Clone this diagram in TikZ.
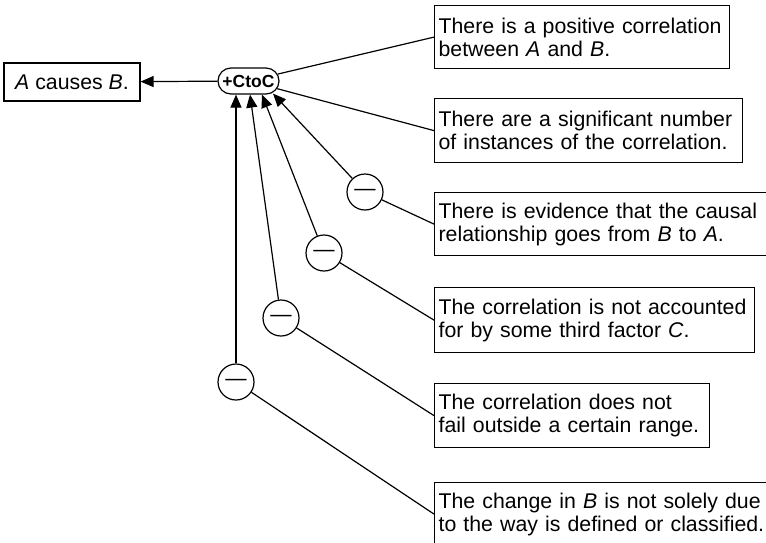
\documentclass[tikz,border=0pt]{standalone}
\usepackage{fontspec}
\setmainfont{Liberation Sans}
\usetikzlibrary{arrows.meta,shapes.misc}
\newcommand{\tline}[1]{\mbox{#1}}
\begin{document}
\begin{tikzpicture}[x=1pt,y=-1pt,
  line width=1.2pt,
  every node/.style={font=\fontsize{21.3}{23}\selectfont},
  claim/.style={draw, anchor=north west, align=left, inner xsep=4pt,
    inner ysep=0pt, minimum height=63pt, text width=#1},
  concl/.style={draw, minimum width=136pt, minimum height=38pt, inner sep=0pt},
  rule/.style={draw, rounded rectangle, minimum width=65pt, minimum height=26pt,
    inner xsep=2pt, inner ysep=0pt, font=\fontsize{17.5}{18}\selectfont\bfseries},
  rebut/.style={draw, circle, minimum size=36pt, inner sep=0pt},
  supports/.style={-{Triangle[length=13pt,width=11pt]}},
  link/.style={}]
  \useasboundingbox (0,0) rectangle (766,542);
  \clip (0,0) rectangle (766,542);

  % conclusion and the rule that warrants it
  \node[concl] (conc) at (72,82) {\textit{A} causes \textit{B}.};
  \node[rule] (ctoc) at (248.5,81) {+CtoC};

  % premises and critical questions
  \node[claim=287pt] (p1) at (434,5)
    {\tline{There is a positive correlation}\\\tline{between \textit{A} and \textit{B}.}};
  \node[claim=300pt, minimum height=64pt] (p2) at (434,98)
    {\tline{There are a significant number}\\\tline{of instances of the correlation.}};
  \node[claim=392pt] (q1) at (434,192)
    {\tline{There is evidence that the causal}\\\tline{relationship goes from \textit{B} to \textit{A}.}};
  \node[claim=312pt, minimum height=65pt] (q2) at (434,287)
    {\tline{The correlation is not accounted}\\\tline{for by some third factor \textit{C}.}};
  \node[claim=267pt, minimum height=64pt] (q3) at (434,383)
    {\tline{The correlation does not}\\\tline{fail outside a certain range.}};
  \node[claim=392pt] (q4) at (434,482)
    {\tline{The change in \textit{B} is not solely due}\\\tline{to the way is defined or classified.}};

  % negation nodes
  \node[rebut] (n1) at (365,192) {—};
  \node[rebut] (n2) at (324,253) {—};
  \node[rebut] (n3) at (281,318) {—};
  \node[rebut] (n4) at (236,382) {—};

  % connectors
  \draw[supports] (ctoc) -- (conc);
  \draw[link] (ctoc) -- (p1.west);
  \draw[link] (ctoc) -- (p2.west);
  \draw[supports] (n1) -- ([xshift=24.5pt,yshift=1pt]ctoc.south);
  \draw[supports] (n2) -- ([xshift=13.5pt]ctoc.south);
  \draw[supports] (n3) -- ([xshift=1.5pt]ctoc.south);
  \draw[supports] (n4) -- ([xshift=-12.5pt]ctoc.south);
  \draw[link] (n1) -- (q1.west);
  \draw[link] (n2) -- (q2.west);
  \draw[link] (n3) -- (q3.west);
  \draw[link] (n4) -- (q4.west);
\end{tikzpicture}
\end{document}
